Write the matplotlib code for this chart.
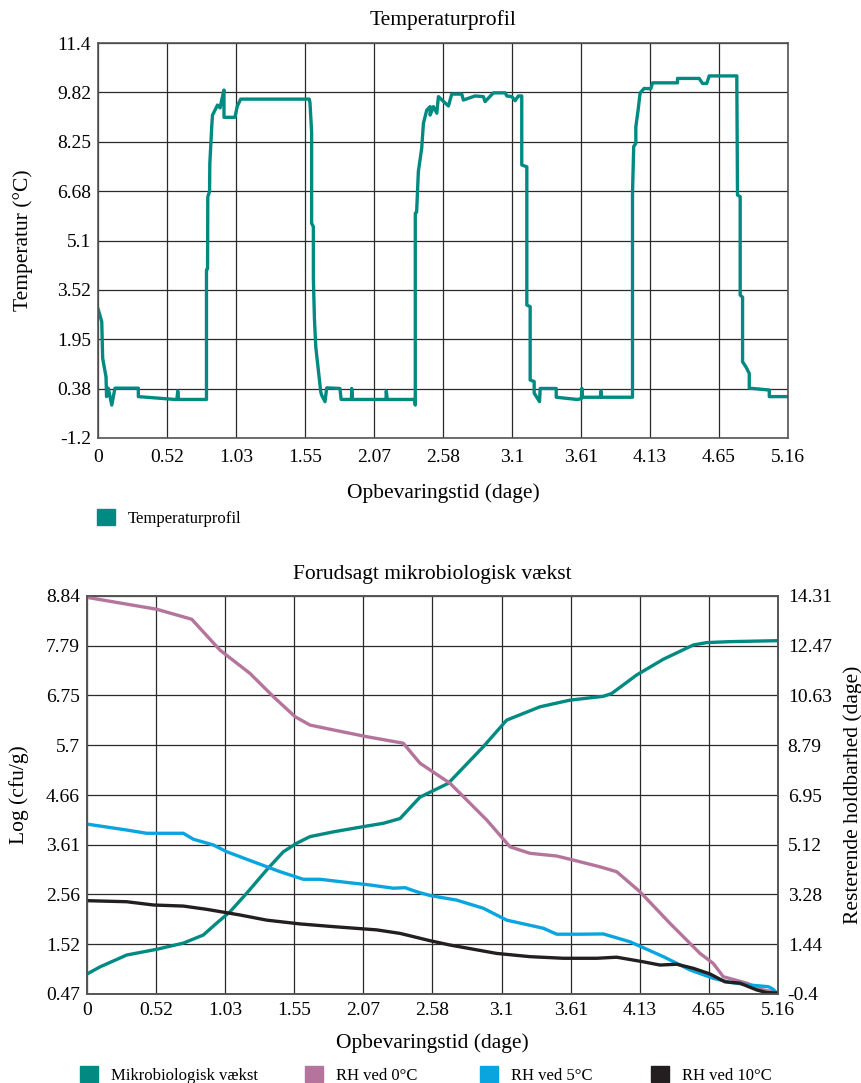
import matplotlib
matplotlib.use("Agg")
import matplotlib.pyplot as plt
from matplotlib.patches import Patch

plt.rcParams['font.family'] = ['Liberation Serif', 'DejaVu Serif']
plt.rcParams['font.size'] = 14

# --- Temperaturprofil (tid i dage, temperatur i grader C) ---
temp_t = [0.002, 0.028, 0.035, 0.060, 0.064, 0.077, 0.103, 0.127, 0.302, 0.302,
          0.576, 0.591, 0.597, 0.603, 0.812, 0.812, 0.820, 0.822, 0.835, 0.837,
          0.845, 0.852, 0.857, 0.876, 0.894, 0.914, 0.926, 0.943, 0.943, 1.025,
          1.043, 1.068, 1.582, 1.587, 1.599, 1.599, 1.612, 1.612, 1.620, 1.630,
          1.655, 1.667, 1.674, 1.699, 1.712, 1.811, 1.820, 1.897, 1.899, 1.905,
          2.156, 2.158, 2.165, 2.373, 2.375, 2.375, 2.385, 2.398, 2.423, 2.436,
          2.461, 2.486, 2.486, 2.511, 2.536, 2.548, 2.623, 2.648, 2.723, 2.735,
          2.822, 2.885, 2.897, 2.960, 3.048, 3.060, 3.098, 3.122, 3.147, 3.172,
          3.172, 3.210, 3.210, 3.235, 3.235, 3.265, 3.265, 3.305, 3.310, 3.430,
          3.430, 3.585, 3.618, 3.622, 3.626, 3.760, 3.765, 3.770, 4.001, 4.001,
          4.010, 4.026, 4.026, 4.043, 4.058, 4.088, 4.138, 4.151, 4.338, 4.338,
          4.500, 4.525, 4.557, 4.575, 4.782, 4.782, 4.787, 4.807, 4.807, 4.825,
          4.825, 4.850, 4.875, 4.875, 5.025, 5.025, 5.165]
temp_v = [2.90, 2.51, 1.34, 0.75, 0.12, 0.39, -0.15, 0.39, 0.39, 0.12,
          0.03, 0.03, 0.30, 0.03, 0.03, 4.16, 4.20, 6.50, 6.66, 7.56,
          8.20, 8.78, 9.10, 9.26, 9.42, 9.33, 9.58, 9.90, 9.03, 9.03,
          9.39, 9.61, 9.61, 9.48, 8.57, 5.65, 5.54, 3.90, 2.62, 1.71,
          0.75, 0.28, 0.17, -0.04, 0.40, 0.38, 0.03, 0.03, 0.38, 0.03,
          0.03, 0.30, 0.03, 0.03, -0.15, 5.97, 6.00, 7.30, 8.04, 8.84,
          9.26, 9.37, 9.10, 9.37, 9.16, 9.69, 9.39, 9.77, 9.77, 9.58,
          9.71, 9.69, 9.53, 9.81, 9.81, 9.71, 9.69, 9.56, 9.71, 9.71,
          7.51, 7.45, 3.04, 2.99, 0.65, 0.60, 0.23, -0.04, 0.38, 0.38,
          0.10, 0.03, 0.05, 0.38, 0.10, 0.10, 0.30, 0.10, 0.10, 6.60,
          8.10, 8.20, 8.73, 9.26, 9.81, 9.95, 9.94, 10.13, 10.13, 10.27,
          10.27, 10.11, 10.11, 10.35, 10.35, 10.11, 6.55, 6.50, 3.36, 3.29,
          1.23, 1.07, 0.86, 0.39, 0.33, 0.12, 0.12]

# --- Mikrobiologisk vaekst (log cfu/g) ---
vaekst_t = [0.0, 0.097, 0.297, 0.521, 0.72, 0.869, 0.969, 1.069, 1.194, 1.343,
            1.467, 1.567, 1.667, 1.841, 2.065, 2.215, 2.34, 2.489, 2.70, 2.962,
            3.137, 3.386, 3.61, 3.859, 3.922, 4.109, 4.308, 4.532, 4.632, 4.806, 5.155]
vaekst_v = [0.89, 1.04, 1.29, 1.41, 1.54, 1.71, 1.96, 2.20, 2.59, 3.08,
            3.46, 3.64, 3.78, 3.88, 3.99, 4.06, 4.16, 4.61, 4.90, 5.67,
            6.23, 6.51, 6.65, 6.73, 6.79, 7.18, 7.51, 7.81, 7.86, 7.88, 7.90]

# --- Resterende holdbarhed (dage) ---
rh0_t = [0.0, 0.521, 0.783, 0.994, 1.218, 1.393, 1.555, 1.667, 1.841, 2.091,
         2.364, 2.489, 2.713, 2.988, 3.162, 3.311, 3.511, 3.635, 3.835, 3.959,
         4.133, 4.358, 4.582, 4.681, 4.756, 4.931, 5.055, 5.155]
rh0_v = [14.26, 13.82, 13.45, 12.31, 11.45, 10.59, 9.85, 9.54, 9.36, 9.11,
         8.87, 8.13, 7.39, 6.03, 5.04, 4.80, 4.70, 4.55, 4.30, 4.12,
         3.38, 2.21, 1.10, 0.73, 0.24, 0.00, -0.25, -0.35]

rh5_t = [0.0, 0.297, 0.446, 0.72, 0.795, 0.944, 1.044, 1.194, 1.443, 1.617,
         1.742, 1.966, 2.115, 2.29, 2.377, 2.464, 2.564, 2.763, 2.962, 3.137,
         3.411, 3.511, 3.685, 3.859, 4.059, 4.308, 4.507, 4.681, 4.806, 4.956,
         5.093, 5.13, 5.155]
rh5_v = [5.88, 5.66, 5.54, 5.54, 5.32, 5.11, 4.86, 4.58, 4.12, 3.84,
         3.84, 3.71, 3.63, 3.51, 3.53, 3.38, 3.24, 3.07, 2.77, 2.33,
         2.03, 1.81, 1.81, 1.82, 1.53, 0.98, 0.49, 0.18, 0.03, -0.07,
         -0.13, -0.23, -0.37]

rh10_t = [0.0, 0.297, 0.496, 0.72, 0.894, 1.144, 1.343, 1.592, 1.841, 2.165,
          2.34, 2.564, 2.713, 3.062, 3.311, 3.561, 3.81, 3.959, 4.158, 4.283,
          4.408, 4.532, 4.657, 4.769, 4.881, 5.006, 5.081, 5.155]
rh10_v = [3.05, 3.01, 2.89, 2.85, 2.73, 2.52, 2.33, 2.19, 2.09, 1.97,
          1.84, 1.57, 1.41, 1.10, 0.98, 0.92, 0.92, 0.96, 0.79, 0.67,
          0.70, 0.55, 0.34, 0.05, 0.00, -0.25, -0.35, -0.36]

x_ticks = [0, 0.5165, 1.033, 1.5495, 2.066, 2.5825, 3.099, 3.6155, 4.132, 4.6485, 5.165]
x_labels = ['0', '0.52', '1.03', '1.55', '2.07', '2.58', '3.1', '3.61', '4.13', '4.65', '5.16']
temp_ticks = [-1.2, 0.375, 1.95, 3.525, 5.1, 6.675, 8.25, 9.825, 11.4]
temp_labels = ['-1.2', '0.38', '1.95', '3.52', '5.1', '6.68', '8.25', '9.82', '11.4']
log_ticks = [0.47, 1.516, 2.563, 3.609, 4.655, 5.701, 6.748, 7.794, 8.84]
log_labels = ['0.47', '1.52', '2.56', '3.61', '4.66', '5.7', '6.75', '7.79', '8.84']
rh_ticks = [-0.4, 1.439, 3.278, 5.116, 6.955, 8.794, 10.633, 12.471, 14.31]
rh_labels = ['-0.4', '1.44', '3.28', '5.12', '6.95', '8.79', '10.63', '12.47', '14.31']

teal = '#008a82'
pink = '#b5749b'
blue = '#0aa5de'
black = '#231f20'
grid_c = '#2a2a2a'


def style_axes(ax):
    ax.grid(True, color=grid_c, linewidth=0.9)
    ax.set_axisbelow(True)
    ax.tick_params(length=0)
    for s in ax.spines.values():
        s.set_color('#555555')
        s.set_linewidth(1.2)


def legend_item(fig, x, y, color, label):
    # firkant + tekst, placeret i pixel-koordinater
    fig.legend(handles=[Patch(color=color, label=label)], loc='center left',
               bbox_to_anchor=(x / 861, 1 - y / 1083), frameon=False,
               fontsize=12, handlelength=1.05, handleheight=1.05,
               handletextpad=0.8, borderpad=0, borderaxespad=0)


fig = plt.figure(figsize=(8.61, 10.83), dpi=100)

# Temperaturprofil
ax1 = fig.add_axes([98 / 861, 1 - 438 / 1083, 690 / 861, 395 / 1083])
ax1.plot(temp_t, temp_v, color=teal, linewidth=2.4)
ax1.set_xlim(0, 5.165)
ax1.set_ylim(-1.2, 11.4)
ax1.set_xticks(x_ticks, x_labels)
ax1.set_yticks(temp_ticks, temp_labels)
ax1.tick_params(axis='x', pad=8)
ax1.tick_params(axis='y', pad=5)
style_axes(ax1)
ax1.set_title('Temperaturprofil', fontsize=15.5, pad=13)
ax1.set_xlabel('Opbevaringstid (dage)', fontsize=15.5, labelpad=12)
ax1.set_ylabel('Temperatur (°C)', fontsize=15.5, labelpad=17)
legend_item(fig, 97, 518, teal, 'Temperaturprofil')

# Forudsagt mikrobiologisk vaekst
ax2 = fig.add_axes([87 / 861, 1 - 994 / 1083, 691 / 861, 398 / 1083])
ax3 = ax2.twinx()
ax2.plot(vaekst_t, vaekst_v, color=teal, linewidth=2.4)
ax3.plot(rh0_t, rh0_v, color=pink, linewidth=2.4)
ax3.plot(rh5_t, rh5_v, color=blue, linewidth=2.4)
ax3.plot(rh10_t, rh10_v, color=black, linewidth=2.4)
ax2.set_xlim(0, 5.165)
ax2.set_ylim(0.47, 8.84)
ax3.set_ylim(-0.4, 14.31)
ax2.set_xticks(x_ticks, x_labels)
ax2.set_yticks(log_ticks, log_labels)
ax3.set_yticks(rh_ticks, rh_labels)
style_axes(ax2)
ax3.tick_params(length=0, pad=7)
for s in ax3.spines.values():
    s.set_color('#555555')
    s.set_linewidth(1.2)
ax2.tick_params(axis='x', pad=6)
ax2.tick_params(axis='y', pad=5)
ax2.set_title('Forudsagt mikrobiologisk vækst', fontsize=15.5, pad=12)
ax2.set_xlabel('Opbevaringstid (dage)', fontsize=15.5, labelpad=10)
ax2.set_ylabel('Log (cfu/g)', fontsize=15.5, labelpad=12)
ax3.set_ylabel('Resterende holdbarhed (dage)', fontsize=15.5, labelpad=8)

legend_item(fig, 80, 1075, teal, 'Mikrobiologisk vækst')
legend_item(fig, 305, 1075, pink, 'RH ved 0°C')
legend_item(fig, 480, 1075, blue, 'RH ved 5°C')
legend_item(fig, 651, 1075, black, 'RH ved 10°C')

fig.savefig('out.png', dpi=100)
